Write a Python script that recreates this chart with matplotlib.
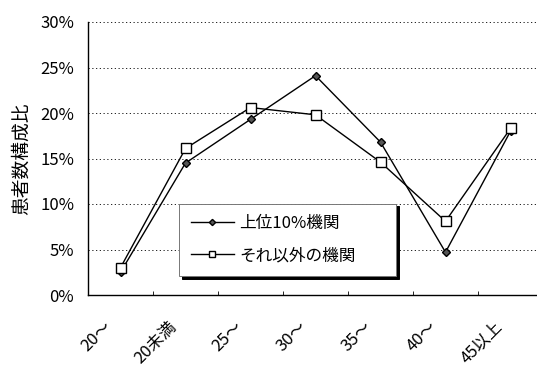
import numpy as np
import matplotlib
matplotlib.use("Agg")
import matplotlib.pyplot as plt
import matplotlib.transforms as mtransforms
from matplotlib.ticker import PercentFormatter

plt.rcParams['font.family'] = ['Noto Sans CJK JP', 'DejaVu Sans']

categories = ["20〜", "20未満", "25〜", "30〜", "35〜", "40〜", "45以上"]
top10 = [2.5, 14.5, 19.3, 24.1, 16.8, 4.7, 18.0]
others = [3.0, 16.1, 20.6, 19.8, 14.6, 8.1, 18.3]

fig = plt.figure(figsize=(5.37, 3.66), dpi=100)
ax = fig.add_axes([88 / 537, 71 / 366, 455 / 537, 273 / 366])

x = np.arange(len(categories))
ax.plot(x, top10, color="black", lw=1.0, marker="D", ms=4.5,
        mfc="#555555", mec="black", label="上位10%機関")
ax.plot(x, others, color="black", lw=1.0, marker="s", ms=7,
        mfc="white", mec="black", label="それ以外の機関")

ax.set_xlim(-0.5, 6.5)
ax.set_ylim(0, 30)
ax.set_yticks(range(0, 31, 5))
ax.yaxis.set_major_formatter(PercentFormatter(decimals=0))
ax.grid(axis="y", ls=(0, (1.5, 3)), color="black", lw=0.6)
ax.set_axisbelow(True)
for s in ["top", "right"]:
    ax.spines[s].set_visible(False)
ax.spines["left"].set_linewidth(1.0)
ax.spines["bottom"].set_linewidth(1.0)

# category labels, rotated and shifted left like the original
ax.set_xticks(x)
ax.set_xticklabels([])
ax.set_xticks(x[:-1] + 0.5, minor=True)
ax.tick_params(axis="x", which="major", length=0)
ax.tick_params(axis="x", which="minor", length=3, direction="in", width=0.6)
off = mtransforms.ScaledTranslation(-17 / 100, -23 / 100, fig.dpi_scale_trans)
for xi, lab in zip(x, categories):
    ax.text(xi, 0, lab, transform=ax.get_xaxis_transform() + off,
            rotation=45, rotation_mode="anchor", ha="right", va="top",
            fontsize=12)

ax.tick_params(axis="y", length=0, pad=10, labelsize=12)
ax.set_ylabel("患者数構成比", fontsize=13.5, labelpad=6)

leg = ax.legend(loc="lower left", bbox_to_anchor=(0.2, 0.07, 0.477, 0.311),
                mode="expand", fontsize=12, frameon=True, fancybox=False,
                shadow={"color": "black", "alpha": 1},
                edgecolor="#777777", labelspacing=0.9, markerscale=0.7,
                handlelength=2.6, handletextpad=0.3, borderpad=0.7,
                borderaxespad=0)
leg.get_frame().set_linewidth(0.7)

fig.savefig("out.png", dpi=100)
